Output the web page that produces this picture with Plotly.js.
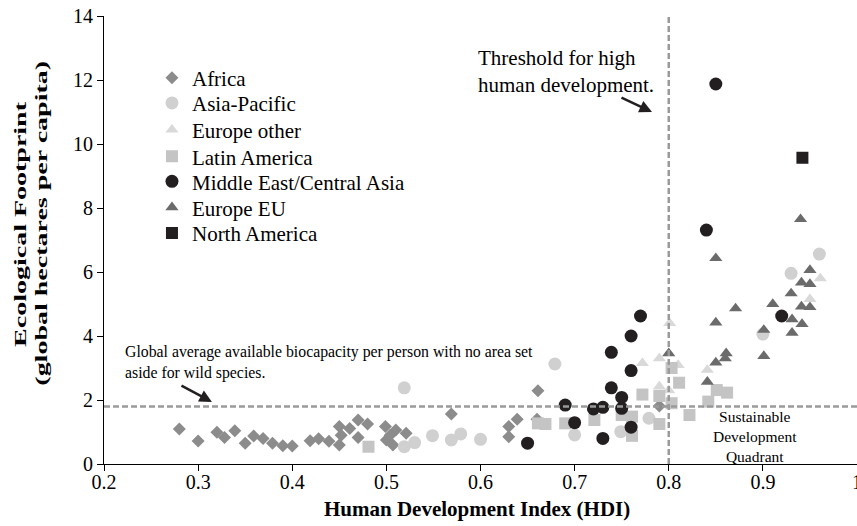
<!DOCTYPE html>
<html>
<head>
<meta charset="utf-8">
<script src="https://cdn.plot.ly/plotly-3.0.1.min.js"></script>
<style>html,body{margin:0;padding:0;background:#fff;}#chart{width:857px;height:526px;}</style>
</head>
<body>
<div id="chart"></div>
<script>
// ---- Data ----
const regionNames = ["Africa", "Asia-Pacific", "Europe other", "Latin America", "Middle East/Central Asia", "Europe EU", "North America"];

const africaHDI = [0.28,0.30,0.32,0.328,0.339,0.35,0.359,0.369,0.379,0.39,0.40,0.419,0.428,0.439,0.45,0.45,0.461,0.47,0.48,0.47,0.452,0.499,0.51,0.521,0.50,0.507,0.504,0.569,0.661,0.639,0.630,0.630,0.66,0.79];
const africaEF  = [1.09,0.72,0.99,0.83,1.04,0.65,0.875,0.80,0.65,0.57,0.56,0.73,0.79,0.71,0.59,1.17,1.11,1.375,1.25,0.83,0.90,1.17,1.06,0.96,0.75,0.59,0.90,1.56,2.29,1.40,1.17,0.85,1.40,1.81];

const asiaHDI = [0.519,0.519,0.530,0.549,0.569,0.579,0.600,0.679,0.700,0.749,0.779,0.960,0.930,0.900];
const asiaEF  = [2.38,0.54,0.67,0.885,0.75,0.94,0.77,3.125,0.91,1.01,1.43,6.56,5.96,4.06];

const euOtherHDI = [0.772,0.79,0.801,0.81,0.79,0.80,0.841,0.961,0.950];
const euOtherEF  = [3.15,3.30,4.40,3.09,2.42,2.30,2.94,5.80,5.15];

const latinHDI = [0.481,0.661,0.669,0.690,0.721,0.750,0.761,0.761,0.772,0.79,0.803,0.811,0.790,0.803,0.851,0.862,0.842,0.822];
const latinEF  = [0.54,1.27,1.25,1.27,1.375,1.53,1.48,0.88,2.17,1.25,3.0,2.54,2.125,1.90,2.31,2.23,1.95,1.53];

const mecaHDI = [0.770,0.760,0.739,0.760,0.739,0.750,0.690,0.720,0.730,0.750,0.700,0.760,0.650,0.730,0.840,0.850,0.920];
const mecaEF  = [4.625,4.0,3.49,2.92,2.38,2.08,1.84,1.72,1.77,1.74,1.29,1.15,0.65,0.80,7.31,11.875,4.625];

const euHDI = [0.850,0.950,0.941,0.950,0.930,0.9105,0.871,0.941,0.950,0.931,0.9416,0.931,0.850,0.901,0.901,0.861,0.860,0.850,0.841,0.800,0.940];
const euEF  = [6.43,6.06,5.67,5.625,5.33,5.0,4.86,4.92,4.90,4.52,4.375,4.10,4.42,4.19,3.375,3.46,3.30,3.17,2.57,3.46,7.65];

const naHDI = [0.942];
const naEF  = [9.57];

const biocapacityLine = 1.8;   // global average available biocapacity (gha per person)
const hdiThreshold = 0.8;      // threshold for high human development
const xTickVals = [0.2,0.3,0.4,0.5,0.6,0.7,0.8,0.9,1.0];
const yTickVals = [0,2,4,6,8,10,12,14];

// ---- Styling ----
const serif = "Liberation Serif, Times New Roman, serif";
const styles = [
  {symbol:"diamond", color:"#8c8c8c", size:10},
  {symbol:"circle", color:"#d0d0d0", size:13},
  {symbol:"triangle-up", color:"#d9d9d9", size:11.5},
  {symbol:"square", color:"#c4c4c4", size:12},
  {symbol:"circle", color:"#231f20", size:13},
  {symbol:"triangle-up", color:"#6b6b6b", size:11.5},
  {symbol:"square", color:"#231f20", size:12}
];
const xs = [africaHDI, asiaHDI, euOtherHDI, latinHDI, mecaHDI, euHDI, naHDI];
const ys = [africaEF, asiaEF, euOtherEF, latinEF, mecaEF, euEF, naEF];
const legendIds = ["legend","legend2","legend3","legend4","legend5","legend6","legend7"];
const legendY = [0.8612,0.8051,0.7455,0.6859,0.6301,0.5721,0.5149];

const traces = regionNames.map((name,i)=>({
  type:"scatter", mode:"markers", name:name,
  x:xs[i], y:ys[i],
  legend: legendIds[i],
  showlegend:true,
  marker:{symbol:styles[i].symbol, color:styles[i].color, size:styles[i].size, line:{width:0}},
  hoverinfo:"x+y+name"
}));

const yTitleStretch = 1.62; // the reference's y-axis title is drawn elongated along its length

const layout = {
  width:857, height:526,
  showlegend:true,
  margin:{l:104, r:0, t:16, b:62, pad:0},
  paper_bgcolor:"#fff", plot_bgcolor:"#fff",
  font:{family:serif, color:"#000", size:20},
  xaxis:{range:[0.2,1.0], tickvals:xTickVals, ticktext:xTickVals.map(v=>v===1?"1":v.toFixed(1)),
    showline:true, linecolor:"#000", linewidth:1, ticks:"outside", ticklen:6, tickcolor:"#000", tickwidth:1,
    ticklabelstandoff:-6,
    showgrid:false, zeroline:false, tickfont:{family:serif, size:20, color:"#000"}},
  yaxis:{range:[0,14], tickvals:yTickVals,
    showline:true, linecolor:"#000", linewidth:1, ticks:"outside", ticklen:6, tickcolor:"#000", tickwidth:1,
    showgrid:false, zeroline:false, tickfont:{family:serif, size:20, color:"#000"}},
  shapes:[
    {type:"line", xref:"x", yref:"y", x0:0.2, x1:1.0, y0:biocapacityLine, y1:biocapacityLine, layer:"above",
     line:{color:"#9a9a9a", width:2.5, dash:"6px,3px"}},
    {type:"line", xref:"x", yref:"y", x0:hdiThreshold, x1:hdiThreshold, y0:0, y1:14, layer:"above",
     line:{color:"#9a9a9a", width:2.5, dash:"6px,3px"}}
  ],
  annotations:[
    {xref:"paper", yref:"paper", x:0.4954, y:-0.1004, text:"<b>Human Development Index (HDI)</b>", showarrow:false,
     xanchor:"center", yanchor:"middle", font:{family:serif, size:21, color:"#000"}},
    {xref:"paper", yref:"paper", x:-0.1116, y:0.5357, text:"<b>Ecological Footprint</b>", textangle:-90, showarrow:false,
     xanchor:"center", yanchor:"middle", font:{family:serif, size:17.3, color:"#000"}},
    {xref:"paper", yref:"paper", x:-0.0843, y:0.5357, text:"<b>(global hectares per capita)</b>", textangle:-90, showarrow:false,
     xanchor:"center", yanchor:"middle", font:{family:serif, size:17.3, color:"#000"}},
    {xref:"x", yref:"y", x:0.5952, y:12.26, text:"Threshold for high<br>human development.", showarrow:false,
     xanchor:"left", yanchor:"middle", align:"left", font:{family:serif, size:21, color:"#000"}},
    {xref:"x", yref:"y", x:0.7822, y:11.0, text:"", showarrow:true, ax:-32, ay:-15,
     arrowhead:2, arrowsize:1, arrowwidth:2.5, arrowcolor:"#231f20"},
    {xref:"x", yref:"y", x:0.2202, y:3.17, text:"Global average available biocapacity per person with no area set<br>aside for wild species.", showarrow:false,
     xanchor:"left", yanchor:"middle", align:"left", font:{family:serif, size:15.8, color:"#000"}},
    {xref:"x", yref:"y", x:0.3147, y:1.94, text:"", showarrow:true, ax:-32, ay:-17,
     arrowhead:2, arrowsize:1, arrowwidth:2.5, arrowcolor:"#231f20"},
    {xref:"x", yref:"y", x:0.8916, y:0.875, text:"Sustainable<br>Development<br>Quadrant", showarrow:false,
     xanchor:"center", yanchor:"middle", align:"center", font:{family:serif, size:15.5, color:"#000"}},
    {xref:"x", yref:"paper", x:xTickVals[xTickVals.length-1], y:-0.0402, text:"1", showarrow:false,
     xanchor:"center", yanchor:"middle", font:{family:serif, size:20, color:"#000"}}
  ]
};
legendIds.forEach((id,i)=>{
  layout[id] = {x:0.0637, xanchor:"left", y:legendY[i], yanchor:"middle", bgcolor:"rgba(0,0,0,0)",
    borderwidth:0, font:{family:serif, size:21, color:"#000"}, itemclick:false, itemdoubleclick:false, visible:true};
});

Plotly.newPlot("chart", traces, layout, {displayModeBar:false, staticPlot:true}).then(()=>{
  // elongate the y-axis title text along its own direction, as in the reference
  document.querySelectorAll('text.annotation-text').forEach(t=>{
    if(!/Ecological|hectares/.test(t.textContent)) return;
    const bb = t.getBBox();
    const cx = bb.x + bb.width/2, cy = bb.y + bb.height/2;
    t.setAttribute('transform', `translate(${cx},${cy}) scale(${yTitleStretch},1) translate(${-cx},${-cy})`);
  });
});
</script>
</body>
</html>
